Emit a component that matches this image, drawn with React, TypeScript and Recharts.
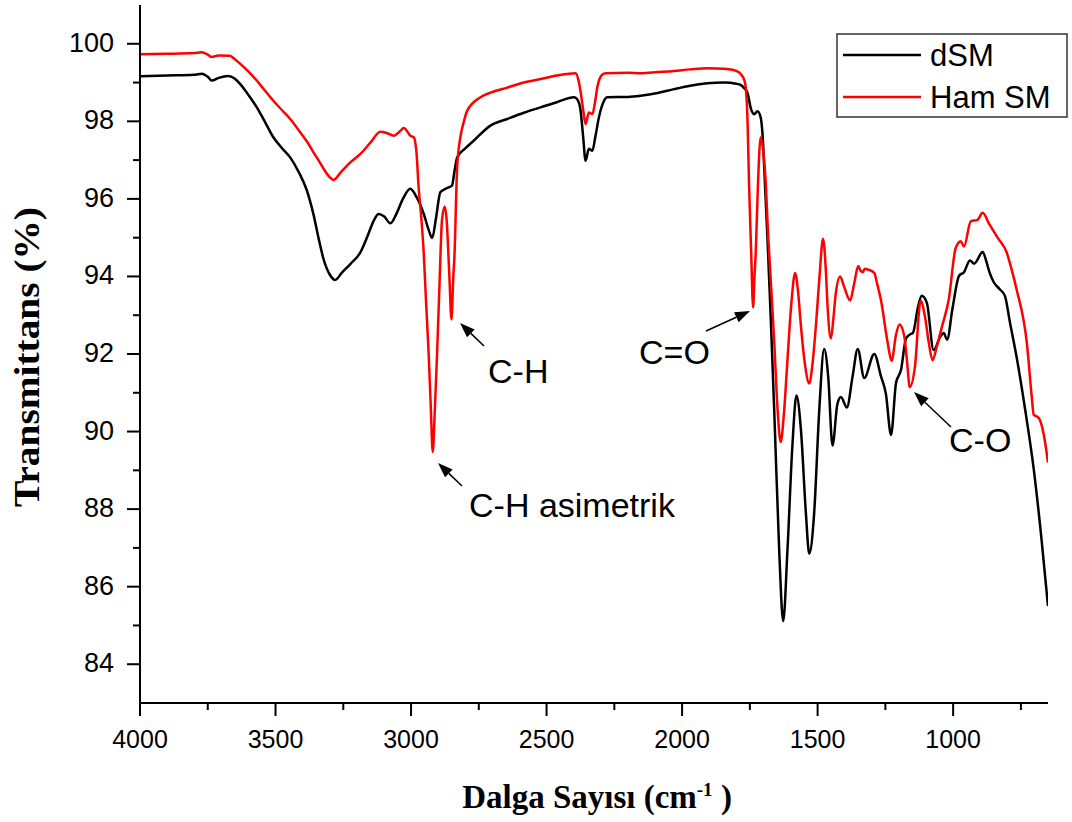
import React from 'react';
import { LineChart, Line, XAxis, YAxis } from 'recharts';

// dSM spectrum (wavenumber cm-1, transmittance %)
const dsmWave = [
  4000, 3900, 3800, 3772, 3750, 3735, 3710, 3675, 3650, 3630, 3600, 3569, 3540, 3508, 3475, 3446,
  3415, 3384, 3360, 3340, 3323, 3300, 3280, 3255, 3224, 3187, 3160, 3140, 3120, 3100, 3076, 3055,
  3030, 3003, 2980, 2953, 2935, 2922, 2908, 2892, 2875, 2861, 2849, 2840, 2830, 2800, 2769, 2707,
  2645, 2584, 2522, 2460, 2399, 2387, 2375, 2365, 2356, 2344, 2331, 2320, 2307, 2290, 2276, 2200,
  2153, 2090, 2030, 1970, 1907, 1845, 1800, 1784, 1770, 1759, 1745, 1734, 1722, 1710, 1703, 1695,
  1685, 1673, 1660, 1642, 1627, 1611, 1593, 1578, 1562, 1543, 1531, 1513, 1494, 1476, 1461, 1445,
  1427, 1414, 1392, 1371, 1352, 1328, 1291, 1266, 1248, 1229, 1211, 1192, 1174, 1160, 1148, 1130,
  1116, 1097, 1072, 1047, 1035, 1022, 1003, 978, 960, 938, 922, 891, 878, 866, 850, 828,
  809, 790, 766, 735, 703, 675, 650,
];
const dsmValues = [
  99.16, 99.18, 99.2, 99.23, 99.15, 99.05, 99.12, 99.17, 99.1, 98.96, 98.68, 98.36, 98.0, 97.59, 97.3, 97.07,
  96.7, 96.21, 95.6, 94.95, 94.45, 94.05, 93.91, 94.1, 94.32, 94.62, 95.05, 95.4, 95.61, 95.55, 95.37, 95.6,
  96.0, 96.26, 96.05, 95.61, 95.2, 94.99, 95.5, 96.17, 96.25, 96.3, 96.34, 96.7, 97.07, 97.3, 97.5, 97.89,
  98.06, 98.22, 98.36, 98.5, 98.62, 98.57, 98.3, 97.6, 96.98, 97.29, 97.24, 97.6, 98.1, 98.5, 98.62, 98.63,
  98.66, 98.73, 98.83, 98.92, 98.98, 99.0, 98.97, 98.94, 98.85, 98.74, 98.3, 98.18, 98.26, 98.1, 97.64, 96.5,
  94.97, 92.95, 90.54, 86.98, 85.11, 86.98, 89.64, 90.93, 90.09, 87.87, 86.85, 87.87, 90.54, 92.13, 91.42, 89.64,
  90.71, 90.89, 90.62, 91.42, 92.13, 91.38, 92.0, 91.42, 90.97, 89.91, 91.24, 91.6, 92.4, 92.5, 92.55, 93.2,
  93.5, 93.32, 92.1, 92.45, 92.54, 92.37, 93.15, 94.02, 94.11, 94.41, 94.33, 94.63, 94.4, 94.11, 93.85, 93.67,
  93.5, 92.8, 91.93, 90.6, 89.05, 87.3, 85.5,
];

// Ham SM spectrum
const hamWave = [
  4000, 3900, 3800, 3772, 3750, 3735, 3710, 3668, 3650, 3630, 3600, 3569, 3540, 3508, 3475, 3446,
  3409, 3384, 3360, 3340, 3323, 3300, 3286, 3260, 3224, 3187, 3150, 3113, 3090, 3064, 3040, 3027,
  3010, 3003, 2990, 2980, 2972, 2962, 2953, 2945, 2935, 2927, 2920, 2912, 2904, 2895, 2886, 2876,
  2868, 2865, 2858, 2851, 2844, 2840, 2830, 2818, 2805, 2793, 2744, 2707, 2645, 2584, 2522, 2461,
  2393, 2382, 2375, 2365, 2356, 2344, 2331, 2320, 2313, 2295, 2282, 2200, 2153, 2090, 2030, 1970,
  1907, 1833, 1800, 1784, 1770, 1765, 1758, 1753, 1745, 1738, 1733, 1728, 1720, 1710, 1700, 1691,
  1685, 1672, 1660, 1648, 1636, 1625, 1611, 1597, 1583, 1572, 1562, 1546, 1531, 1518, 1506, 1493,
  1480, 1470, 1463, 1451, 1442, 1433, 1417, 1402, 1380, 1365, 1350, 1342, 1334, 1326, 1315, 1291,
  1280, 1266, 1242, 1227, 1211, 1198, 1180, 1170, 1160, 1141, 1120, 1104, 1090, 1076, 1060, 1041,
  1016, 991, 972, 960, 935, 910, 891, 866, 834, 803, 785, 766, 728, 710, 703, 684,
  665, 650,
];
const hamValues = [
  99.73, 99.74, 99.76, 99.78, 99.72, 99.66, 99.7, 99.69, 99.6, 99.48, 99.28, 99.05, 98.8, 98.53, 98.28, 98.06,
  97.72, 97.48, 97.2, 96.98, 96.78, 96.56, 96.49, 96.68, 96.94, 97.16, 97.45, 97.73, 97.7, 97.63, 97.75, 97.83,
  97.7, 97.63, 97.59, 97.2, 96.3, 95.5, 94.58, 93.4, 92.0, 90.6, 89.47, 90.6, 92.0, 93.8, 95.44, 95.8,
  95.4, 95.01, 93.9, 92.89, 94.0, 94.5, 96.8, 97.59, 98.0, 98.27, 98.62, 98.74, 98.87, 99.0, 99.09, 99.18,
  99.24, 99.05, 98.79, 98.3, 97.93, 98.23, 98.19, 98.55, 98.87, 99.2, 99.24, 99.25, 99.24, 99.27, 99.3, 99.34,
  99.37, 99.35, 99.3, 99.22, 99.05, 98.87, 97.9, 96.38, 94.6, 93.2, 94.0, 94.66, 96.4, 97.59, 97.2, 96.38,
  95.42, 93.8, 92.31, 90.6, 89.73, 90.4, 91.87, 93.3, 94.09, 93.6, 92.76, 91.7, 91.24, 91.8, 92.76, 94.0,
  94.97, 94.2, 93.2, 92.4, 92.9, 93.56, 94.0, 93.73, 93.38, 93.82, 94.27, 94.15, 94.11, 94.2, 94.18, 94.09,
  93.8, 93.38, 92.31, 91.82, 92.49, 92.76, 92.45, 91.8, 91.15, 91.67, 93.37, 92.97, 92.3, 91.84, 92.2, 92.71,
  93.41, 94.72, 94.91, 94.77, 95.42, 95.46, 95.64, 95.34, 94.98, 94.63, 94.2, 93.67, 92.28, 90.9, 90.44, 90.35,
  89.9, 89.2,
];

const xTicks = [750, 1000, 1250, 1500, 1750, 2000, 2250, 2500, 2750, 3000, 3250, 3500, 3750, 4000];
const yTicks = [84, 85, 86, 87, 88, 89, 90, 91, 92, 93, 94, 95, 96, 97, 98, 99, 100];

const seriesNames = ['dSM', 'Ham SM'];
const seriesColors = ['#000000', '#ff0000'];

const dsmData = dsmWave.map((w, i) => ({ wave: w, t: dsmValues[i] }));
const hamData = hamWave.map((w, i) => ({ wave: w, t: hamValues[i] }));

const SANS = '"Liberation Sans", Arial, sans-serif';
const SERIF = '"Liberation Serif", "Times New Roman", serif';

const XTick = (props: any) => {
  const { x, y, payload } = props;
  const major = payload.value % 500 === 0;
  return (
    <g>
      <line x1={x} x2={x} y1={y} y2={y + (major ? 13 : 7)} stroke="#000" strokeWidth={2} />
      {major && (
        <text x={x} y={y + 45} textAnchor="middle" fontSize={25} fontFamily={SANS} fill="#000">
          {payload.value}
        </text>
      )}
    </g>
  );
};

const YTick = (props: any) => {
  const { x, y, payload } = props;
  const major = payload.value % 2 === 0;
  return (
    <g>
      <line x1={x - (major ? 13 : 7)} x2={x} y1={y} y2={y} stroke="#000" strokeWidth={2} />
      {major && (
        <text x={x - 26} y={y + 8} textAnchor="end" fontSize={27} fontFamily={SANS} fill="#000">
          {payload.value}
        </text>
      )}
    </g>
  );
};

const Arrow = ({ x1, y1, x2, y2 }: { x1: number; y1: number; x2: number; y2: number }) => {
  const a = Math.atan2(y2 - y1, x2 - x1);
  const len = 15;
  const half = 5.5;
  const bx = x2 - len * Math.cos(a);
  const by = y2 - len * Math.sin(a);
  const px = -Math.sin(a) * half;
  const py = Math.cos(a) * half;
  return (
    <g>
      <line x1={x1} y1={y1} x2={bx} y2={by} stroke="#000" strokeWidth={1.5} />
      <polygon points={`${x2},${y2} ${bx + px},${by + py} ${bx - px},${by - py}`} fill="#000" />
    </g>
  );
};

const Overlay = () => (
  <svg
    width={1072}
    height={822}
    style={{ position: 'absolute', left: 0, top: 0, pointerEvents: 'none' }}
  >
    {/* axis titles */}
    <text
      transform="translate(39,357) rotate(-90)"
      textAnchor="middle"
      fontSize={35}
      fontWeight="bold"
      fontFamily={SERIF}
      fill="#000"
      textLength={300}
      lengthAdjust="spacingAndGlyphs"
    >
      Transmittans (%)
    </text>
    <text x={597} y={808} textAnchor="middle" fontSize={33} fontWeight="bold" fontFamily={SERIF} fill="#000">
      Dalga Sayısı (cm
      <tspan fontSize={19} dy={-12}>-1</tspan>
      <tspan dy={12}> )</tspan>
    </text>

    {/* band annotations */}
    <Arrow x1={484} y1={346} x2={460} y2={323} />
    <text x={488} y={383} fontSize={34} fontFamily={SANS} fill="#000">C-H</text>
    <Arrow x1={462} y1={486} x2={438} y2={463} />
    <text x={469} y={517} fontSize={34} fontFamily={SANS} fill="#000">C-H asimetrik</text>
    <Arrow x1={706} y1={331} x2={750} y2={311} />
    <text x={639} y={364} fontSize={34} fontFamily={SANS} fill="#000">C=O</text>
    <Arrow x1={951} y1={427} x2={914} y2={392} />
    <text x={949} y={452} fontSize={34} fontFamily={SANS} fill="#000">C-O</text>

    {/* legend */}
    <rect x={837} y={34} width={230} height={83} fill="#fff" stroke="#333" strokeWidth={1.5} />
    {seriesNames.map((name, i) => (
      <g key={name}>
        <line x1={843} x2={921} y1={55 + i * 42} y2={55 + i * 42} stroke={seriesColors[i]} strokeWidth={2.5} />
        <text x={930} y={66 + i * 42} fontSize={31} fontFamily={SANS} fill="#000">
          {name}
        </text>
      </g>
    ))}
  </svg>
);

export default function App() {
  return (
    <div style={{ position: 'absolute', left: 0, top: 0, width: 1072, height: 822, background: '#fff' }}>
      <LineChart width={1072} height={822} margin={{ top: 5, right: 24, bottom: 0, left: 0 }}>
        <XAxis
          dataKey="wave"
          type="number"
          domain={[650, 4000]}
          reversed
          ticks={xTicks}
          interval={0}
          height={119}
          tickSize={0}
          tickMargin={0}
          tickLine={false}
          axisLine={{ stroke: '#000', strokeWidth: 2 }}
          tick={<XTick />}
          allowDataOverflow
        />
        <YAxis
          type="number"
          domain={[83, 101]}
          ticks={yTicks}
          interval={0}
          width={140}
          tickSize={0}
          tickMargin={0}
          tickLine={false}
          axisLine={{ stroke: '#000', strokeWidth: 2 }}
          tick={<YTick />}
          allowDataOverflow
        />
        <Line
          data={dsmData}
          dataKey="t"
          name={seriesNames[0]}
          type="monotone"
          stroke={seriesColors[0]}
          strokeWidth={2.5}
          dot={false}
          isAnimationActive={false}
        />
        <Line
          data={hamData}
          dataKey="t"
          name={seriesNames[1]}
          type="monotone"
          stroke={seriesColors[1]}
          strokeWidth={2.5}
          dot={false}
          isAnimationActive={false}
        />
      </LineChart>
      <Overlay />
    </div>
  );
}
